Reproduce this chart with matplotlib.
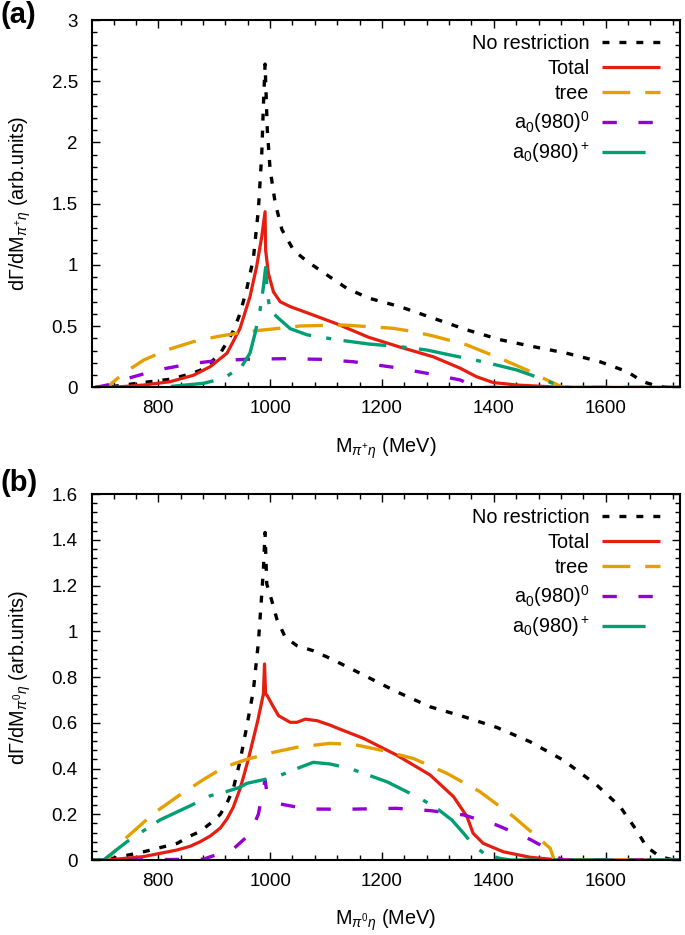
import matplotlib
matplotlib.use("Agg")
import matplotlib.pyplot as plt
from matplotlib.ticker import MultipleLocator, FuncFormatter

plt.rcParams['font.family'] = ['Liberation Sans', 'DejaVu Sans']
plt.rcParams['mathtext.fontset'] = 'custom'
plt.rcParams['mathtext.rm'] = 'Liberation Sans'
plt.rcParams['mathtext.it'] = 'Liberation Sans:italic'
plt.rcParams['mathtext.bf'] = 'Liberation Sans:bold'
plt.rcParams['lines.scale_dashes'] = False

# ---------------- panel (a): pi+ eta ----------------
a_norestr_m = [687, 714, 762, 821, 857, 875, 893, 911, 923, 934, 946, 958, 970, 979, 985, 988, 991,
               995, 1000, 1009, 1021, 1042, 1066, 1098, 1137, 1176, 1232, 1292, 1352, 1411, 1471,
               1530, 1590, 1638, 1667, 1691, 1710, 1733]
a_norestr_y = [0, 0.005, 0.034, 0.067, 0.11, 0.14, 0.20, 0.28, 0.37, 0.46, 0.60, 0.80, 1.05, 1.45,
               1.90, 2.30, 2.64, 2.10, 1.78, 1.51, 1.29, 1.12, 1.03, 0.93, 0.81, 0.73, 0.66, 0.565,
               0.47, 0.39, 0.333, 0.28, 0.21, 0.13, 0.047, 0.012, 0, 0]

a_total_m = [687, 724, 774, 821, 863, 893, 923, 946, 964, 976, 985, 991, 992, 997, 1006, 1018, 1036,
             1066, 1119, 1176, 1232, 1292, 1340, 1369, 1399, 1441, 1483, 1524, 1733]
a_total_y = [0, 0.003, 0.02, 0.047, 0.10, 0.17, 0.28, 0.48, 0.74, 0.99, 1.23, 1.435, 1.12, 0.93,
             0.78, 0.70, 0.66, 0.61, 0.52, 0.41, 0.33, 0.25, 0.157, 0.088, 0.04, 0.02, 0.01, 0, 0]

a_tree_m = [687, 708, 738, 774, 815, 863, 905, 958, 1000, 1054, 1131, 1220, 1256, 1292, 1352,
            1411, 1459, 1495, 1524, 1733]
a_tree_y = [0, 0, 0.116, 0.224, 0.306, 0.374, 0.415, 0.456, 0.475, 0.502, 0.51, 0.483, 0.456,
            0.42, 0.347, 0.238, 0.143, 0.061, 0, 0]

a_a0n_m = [687, 720, 750, 785, 815, 863, 905, 958, 1024, 1089, 1149, 1220, 1280, 1340, 1360,
           1385, 1733]
a_a0n_y = [0, 0.03, 0.08, 0.125, 0.157, 0.197, 0.219, 0.23, 0.235, 0.23, 0.21, 0.165, 0.116,
           0.061, 0.02, 0, 0]

a_a0c_m = [687, 803, 881, 917, 949, 964, 973, 982, 988, 992, 995, 1000, 1015, 1036, 1066, 1119,
           1176, 1232, 1280, 1322, 1381, 1441, 1483, 1524, 1733]
a_a0c_y = [0, 0, 0.034, 0.075, 0.17, 0.28, 0.44, 0.63, 0.82, 0.98, 0.77, 0.63, 0.565, 0.48,
           0.43, 0.39, 0.355, 0.333, 0.306, 0.265, 0.21, 0.143, 0.075, 0, 0]

# ---------------- panel (b): pi0 eta ----------------
b_norestr_m = [683, 714, 774, 834, 857, 875, 893, 911, 923, 934, 946, 958, 970, 979, 985, 988, 991,
               994, 1003, 1012, 1027, 1048, 1077, 1107, 1167, 1226, 1286, 1346, 1405, 1465, 1524,
               1584, 1626, 1655, 1673, 1697, 1721, 1733]
b_norestr_y = [0, 0.005, 0.036, 0.073, 0.105, 0.125, 0.16, 0.20, 0.25, 0.31, 0.43, 0.58, 0.74,
               0.95, 1.16, 1.27, 1.432, 1.207, 1.134, 1.054, 0.974, 0.937, 0.915, 0.882, 0.809,
               0.736, 0.67, 0.627, 0.58, 0.517, 0.437, 0.328, 0.233, 0.131, 0.058, 0.015, 0, 0]

b_total_m = [683, 708, 774, 834, 857, 875, 893, 911, 923, 934, 946, 952, 961, 970, 978, 983, 988,
             990, 992, 995, 1003, 1015, 1036, 1048, 1063, 1084, 1107, 1125, 1167, 1226, 1286, 1328,
             1352, 1363, 1381, 1417, 1465, 1518, 1733]
b_total_y = [0, 0, 0.015, 0.044, 0.06, 0.08, 0.105, 0.14, 0.18, 0.23, 0.31, 0.36, 0.44, 0.53,
             0.61, 0.668, 0.726, 0.857, 0.726, 0.718, 0.682, 0.631, 0.602, 0.602, 0.616, 0.609,
             0.59, 0.572, 0.532, 0.459, 0.372, 0.277, 0.19, 0.117, 0.073, 0.036, 0.012, 0, 0]

b_tree_m = [683, 708, 744, 792, 834, 881, 917, 958, 1006, 1048, 1107, 1150, 1197, 1256, 1316,
            1375, 1435, 1477, 1501, 1508, 1733]
b_tree_y = [0, 0, 0.10, 0.204, 0.277, 0.352, 0.405, 0.44, 0.471, 0.493, 0.51, 0.505, 0.481,
            0.444, 0.379, 0.299, 0.19, 0.102, 0.051, 0, 0]

b_a0n_m = [683, 744, 881, 934, 964, 979, 991, 994, 1000, 1018, 1066, 1137, 1226, 1286, 1346,
           1405, 1465, 1489, 1518, 1525, 1733]
b_a0n_y = [0, 0, 0.004, 0.048, 0.114, 0.20, 0.35, 0.30, 0.281, 0.245, 0.223, 0.222, 0.226,
           0.216, 0.197, 0.153, 0.09, 0.058, 0.007, 0, 0]

b_a0c_m = [683, 702, 744, 803, 857, 893, 923, 946, 958, 1012, 1048, 1077, 1107, 1143, 1209, 1268,
           1298, 1325, 1346, 1363, 1384, 1411, 1430, 1733]
b_a0c_y = [0, 0, 0.08, 0.175, 0.237, 0.281, 0.30, 0.318, 0.335, 0.364, 0.40, 0.427, 0.42, 0.40,
           0.342, 0.27, 0.226, 0.175, 0.117, 0.066, 0.026, 0.007, 0, 0]

labels = ['No restriction', 'Total', 'tree', r'a$_0$(980$)^0$', r'a$_0$(980$)^+$']

# colour, linewidth, dash pattern (points) for each curve
styles = [
    ('black', 2.4, (5.0, 7.2)),
    ('#e51e10', 2.3, None),
    ('#e69f00', 2.4, (20, 10.8)),
    ('#9400d3', 2.4, (10.3, 15.6)),
    ('#009e73', 2.4, (31, 11.0, 3.6, 9.0)),
]

FS = 14.3


def draw_panel(ax, curves, ymax, ymajor, yminor, sub, tag, fig, tag_y):
    for (m, y), lab, (col, lw, dash) in zip(curves, labels, styles):
        line, = ax.plot(m, y, color=col, lw=lw, label=lab, solid_capstyle='butt')
        if dash is not None:
            line.set_dashes(dash)
            line.set_dash_capstyle('butt')

    ax.set_xlim(681, 1733)
    ax.set_ylim(0, ymax)
    ax.xaxis.set_major_locator(MultipleLocator(200))
    ax.xaxis.set_minor_locator(MultipleLocator(40))
    ax.yaxis.set_major_locator(MultipleLocator(ymajor))
    ax.yaxis.set_minor_locator(MultipleLocator(yminor))
    ax.yaxis.set_major_formatter(FuncFormatter(lambda v, p: '%g' % round(v, 6)))
    ax.tick_params(which='both', direction='in', top=True, right=True, width=1.0,
                   labelsize=13.5)
    ax.tick_params(which='major', length=6)
    ax.tick_params(which='minor', length=3.5)
    ax.tick_params(axis='x', pad=9)
    ax.tick_params(axis='y', pad=10)
    for s in ax.spines.values():
        s.set_linewidth(1.5)

    ax.set_xlabel(r'M$_{\pi^{+}\eta}$ (MeV)'.replace('+', sub), fontsize=FS)
    ax.xaxis.set_label_coords(0.5, -0.13)
    ax.set_ylabel(r'd$\Gamma$/dM$_{\pi^{+}\eta}$ (arb.units)'.replace('+', sub), fontsize=FS)
    ax.yaxis.set_label_coords(-0.100, 0.5)

    ax.legend(loc='upper right', bbox_to_anchor=(0.966, 0.962), markerfirst=False,
              frameon=False, handlelength=2.9, handletextpad=0.65, borderpad=0,
              borderaxespad=0, labelspacing=0.30, fontsize=FS)

    fig.text(0.001, tag_y, tag, fontsize=21, fontweight='bold', ha='left', va='top')


fig = plt.figure(figsize=(6.85, 9.35), dpi=100)
ax_a = fig.add_axes([0.1339, 0.5856, 0.8588, 0.393])
ax_b = fig.add_axes([0.1339, 0.0802, 0.8588, 0.3914])

curves_a = [(a_norestr_m, a_norestr_y), (a_total_m, a_total_y), (a_tree_m, a_tree_y),
            (a_a0n_m, a_a0n_y), (a_a0c_m, a_a0c_y)]
curves_b = [(b_norestr_m, b_norestr_y), (b_total_m, b_total_y), (b_tree_m, b_tree_y),
            (b_a0n_m, b_a0n_y), (b_a0c_m, b_a0c_y)]

draw_panel(ax_a, curves_a, 3, 0.5, 0.1, '+', '(a)', fig, 0.999)
draw_panel(ax_b, curves_b, 1.6, 0.2, 0.04, '0', '(b)', fig, 0.498)

fig.savefig('out.png', dpi=100)
